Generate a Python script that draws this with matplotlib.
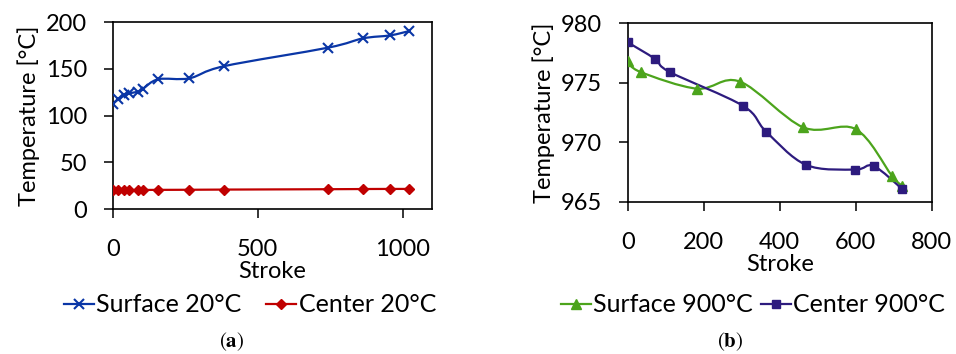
import numpy as np
import matplotlib.pyplot as plt
from matplotlib.path import Path
from matplotlib.patches import PathPatch
from matplotlib.lines import Line2D

plt.rcParams['font.family'] = ['Lato', 'DejaVu Sans']
plt.rcParams['mathtext.fontset'] = 'stix'

# (a) 20°C
stroke_20 = [0, 19, 39, 57, 88, 103, 157, 264, 384, 742, 863, 957, 1021]
surface_20 = [113, 117.5, 122, 124, 125.7, 128.5, 139, 140, 153, 172.8, 182.8, 186, 190.5]
center_20 = [20.3, 20.3, 20.3, 20.3, 20.4, 20.4, 20.5, 20.6, 20.8, 21.2, 21.4, 21.5, 21.5]

# (b) 900°C
stroke_surf_900 = [0, 34, 183, 295, 462, 600, 695, 723]
surface_900 = [976.8, 975.9, 974.5, 975.1, 971.25, 971.1, 967.2, 966.3]
stroke_cent_900 = [0, 72, 111, 304, 364, 469, 598, 647, 723]
center_900 = [978.4, 977.0, 975.9, 973.05, 970.9, 968.1, 967.7, 968.0, 966.05]

BLUE = '#0a36a6'
RED = '#c00000'
GREEN = '#4ca41c'
PURPLE = '#2d1b7e'
FS = 17
FS_LEG = 18


def smooth_path(x, y):
    # linea suavizada tipo excel (bezier por los puntos)
    p = np.column_stack([x, y]).astype(float)
    n = len(p)
    verts = [p[0]]
    codes = [Path.MOVETO]
    for i in range(n - 1):
        p0 = p[max(i - 1, 0)]
        p3 = p[min(i + 2, n - 1)]
        verts += [p[i] + (p[i + 1] - p0) / 6, p[i + 1] - (p3 - p[i]) / 6, p[i + 1]]
        codes += [Path.CURVE4] * 3
    return Path(verts, codes)


def serie(ax, x, y, color, marker, ms, label, mew=1.0):
    ax.add_patch(PathPatch(smooth_path(x, y), fill=False, edgecolor=color, lw=1.6, zorder=2))
    ax.plot(x, y, linestyle='none', marker=marker, color=color, markersize=ms,
            markeredgewidth=mew, zorder=3)
    return Line2D([], [], color=color, lw=1.6, marker=marker, markersize=ms,
                  markeredgewidth=mew, label=label)


def estilo(ax):
    for s in ax.spines.values():
        s.set_linewidth(1.2)
    ax.tick_params(direction='out', length=6.5, width=1.1, labelsize=FS)
    ax.tick_params(axis='x', pad=15)
    ax.tick_params(axis='y', pad=12)
    ax.set_xlabel('Stroke', fontsize=FS, labelpad=1)
    ax.set_ylabel('Temperature [°C]', fontsize=FS, labelpad=4)


fig = plt.figure(figsize=(9.56, 3.54), dpi=100)

ax1 = fig.add_axes([0.1179, 0.4096, 0.3337, 0.5274])
h1 = serie(ax1, stroke_20, surface_20, BLUE, 'x', 7, 'Surface 20°C', mew=1.5)
h2 = serie(ax1, stroke_20, center_20, RED, 'D', 5, 'Center 20°C')
ax1.set_xlim(0, 1100)
ax1.set_ylim(0, 200)
ax1.set_xticks([0, 500, 1000])
ax1.set_yticks([0, 50, 100, 150, 200])
estilo(ax1)
fig.legend(handles=[h1, h2], loc='center', bbox_to_anchor=(250 / 956, 1 - 305 / 354),
           ncol=2, frameon=False, fontsize=FS_LEG, handlelength=1.2, handletextpad=0.1,
           columnspacing=1.0, borderpad=0, borderaxespad=0)

ax2 = fig.add_axes([0.6566, 0.4302, 0.318, 0.504])
h3 = serie(ax2, stroke_surf_900, surface_900, GREEN, '^', 6.5, 'Surface 900°C')
h4 = serie(ax2, stroke_cent_900, center_900, PURPLE, 's', 6, 'Center 900°C')
ax2.set_xlim(0, 800)
ax2.set_ylim(965, 980)
ax2.set_xticks([0, 200, 400, 600, 800])
ax2.set_yticks([965, 970, 975, 980])
estilo(ax2)
fig.legend(handles=[h3, h4], loc='center', bbox_to_anchor=(753 / 956, 1 - 305 / 354),
           ncol=2, frameon=False, fontsize=FS_LEG, handlelength=1.2, handletextpad=0.1,
           columnspacing=0.3, borderpad=0, borderaxespad=0)

fig.text(232 / 956, 1 - 342 / 354, r'$(\mathbf{a})$', fontsize=15, ha='center', va='center')
fig.text(730 / 956, 1 - 342 / 354, r'$(\mathbf{b})$', fontsize=15, ha='center', va='center')

fig.savefig('out.png', dpi=100)
